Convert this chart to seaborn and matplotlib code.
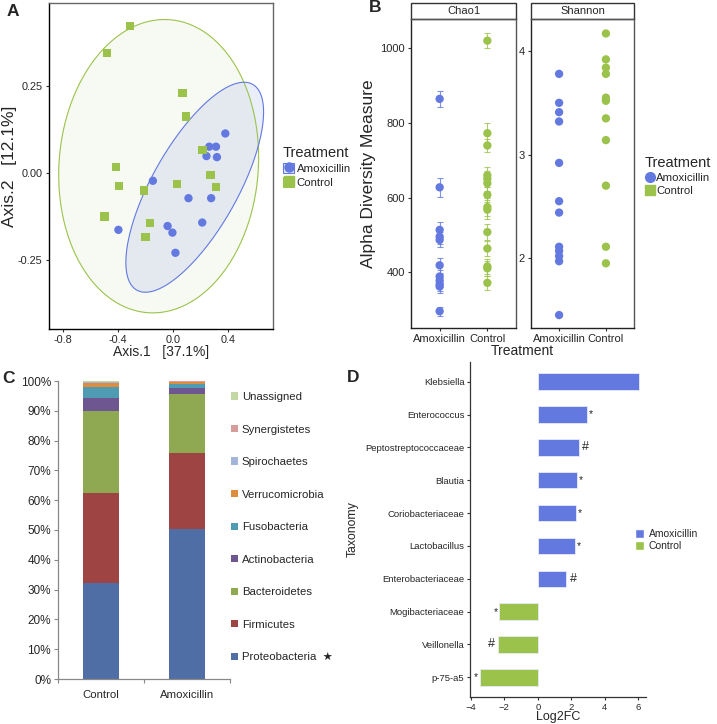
import numpy as np
import pandas as pd
import matplotlib
matplotlib.use("Agg")
import matplotlib.pyplot as plt
from matplotlib.patches import Patch, Rectangle
from matplotlib.lines import Line2D
import seaborn as sns

sns.set_style("white")
plt.rcParams["font.family"] = ["Liberation Sans", "DejaVu Sans"]

BLUE = "#6379E0"
GREEN = "#9BC34B"
PAL = {"Amoxicillin": BLUE, "Control": GREEN}

# ---------------------------------------------------------------------------
# Panel A: PCoA ordination (Axis.1 / Axis.2)
# ---------------------------------------------------------------------------
amox_axis1 = [0.383, 0.266, 0.315, 0.246, 0.322, -0.144, 0.115, 0.280,
              -0.395, -0.037, -0.002, 0.215, 0.020]
amox_axis2 = [0.114, 0.076, 0.076, 0.049, 0.046, -0.022, -0.072, -0.072,
              -0.163, -0.152, -0.171, -0.142, -0.229]
ctrl_axis1 = [-0.312, -0.476, 0.071, 0.095, 0.217, -0.412, -0.393, -0.210,
              0.032, 0.276, 0.317, -0.495, -0.163, -0.198]
ctrl_axis2 = [0.422, 0.346, 0.230, 0.163, 0.066, 0.018, -0.037, -0.050,
              -0.032, -0.006, -0.039, -0.125, -0.144, -0.183]

# ---------------------------------------------------------------------------
# Panel B: alpha diversity (Chao1 with s.e., Shannon)
# ---------------------------------------------------------------------------
chao1_amox = [865, 628, 514, 496, 487, 419, 389, 378, 368, 362, 296]
chao1_amox_se = [21, 25, 20, 20, 20, 20, 18, 18, 18, 18, 12]
chao1_ctrl = [1021, 773, 740, 660, 651, 639, 608, 575, 568, 508, 464, 416, 411, 372]
chao1_ctrl_se = [20, 27, 18, 22, 22, 22, 20, 25, 25, 22, 20, 20, 20, 18]
shannon_amox = [3.78, 3.50, 3.41, 3.32, 2.92, 2.55, 2.44, 2.11, 2.07, 2.02, 1.97, 1.45]
shannon_ctrl = [4.17, 3.92, 3.84, 3.78, 3.55, 3.52, 3.35, 3.14, 2.70, 2.11, 1.95]

# ---------------------------------------------------------------------------
# Panel C: phylum relative abundance (%)
# ---------------------------------------------------------------------------
samples_c = ["Control", "Amoxicillin"]
phyla = ["Proteobacteria", "Firmicutes", "Bacteroidetes", "Actinobacteria",
         "Fusobacteria", "Verrucomicrobia", "Spirochaetes", "Synergistetes",
         "Unassigned"]
abund_control = [32.1, 30.2, 27.7, 4.2, 3.9, 1.1, 0.4, 0.2, 0.2]
abund_amox = [50.2, 25.6, 20.0, 1.7, 1.5, 0.7, 0.1, 0.05, 0.15]
phyla_colors = ["#4F6EA6", "#9E4442", "#8FA852", "#6E5690", "#4E9BB2",
                "#DE8C3E", "#A3B6D9", "#D69D9B", "#C3D8A2"]

# ---------------------------------------------------------------------------
# Panel D: differential abundance (Log2FC)
# ---------------------------------------------------------------------------
taxa = ["Klebsiella", "Enterococcus", "Peptostreptococcaceae", "Blautia",
        "Coriobacteriaceae", "Lactobacillus", "Enterobacteriaceae",
        "Mogibacteriaceae", "Veillonella", "p-75-a5"]
log2fc = [6.06, 2.92, 2.44, 2.34, 2.28, 2.22, 1.70, -2.30, -2.38, -3.48]
enriched_in = ["Amoxicillin"] * 7 + ["Control"] * 3
signif = ["", "*", "#", "*", "*", "*", "#", "*", "#", "*"]


def cov_trob(x, nu=5, maxit=25, tol=0.01):
    # Robust multivariate-t covariance (port of MASS::cov.trob, as stat_ellipse uses).
    n, p = x.shape
    wt = np.ones(n)
    loc = x.mean(axis=0)
    w = np.sqrt(wt)
    for _ in range(maxit):
        w0 = w
        X = x - loc
        _, s, vt = np.linalg.svd(np.sqrt(w / w.sum())[:, None] * X, full_matrices=False)
        wX = X @ vt.T @ np.diag(1 / s)
        Q = (wX ** 2).sum(axis=1)
        w = wt * (nu + p) / (nu + Q)
        loc = (w[:, None] * x).sum(axis=0) / w.sum()
        if np.all(np.abs(w - w0) < tol):
            break
    sw = np.sqrt(w)[:, None] * X
    return loc, sw.T @ sw / wt.sum()


def conf_ellipse(x, y, level=0.95, npts=240):
    pts = np.column_stack([x, y]).astype(float)
    center, shape = cov_trob(pts)
    d = len(pts) - 1
    fq = (d / 2) * ((1 - level) ** (-2 / d) - 1)  # F(2, n-1) quantile, closed form
    radius = np.sqrt(2 * fq)
    chol = np.linalg.cholesky(shape)
    t = np.linspace(0, 2 * np.pi, npts)
    out = center[:, None] + radius * chol @ np.vstack([np.cos(t), np.sin(t)])
    return out[0], out[1]


def frame(ax, dark="black", light="#666666"):
    for s in ["left", "bottom"]:
        ax.spines[s].set_color(dark)
        ax.spines[s].set_linewidth(1.0)
    for s in ["top", "right"]:
        ax.spines[s].set_color(light)
        ax.spines[s].set_linewidth(1.0)
        ax.spines[s].set_visible(True)


W, H = 717, 724
fig = plt.figure(figsize=(W / 100, H / 100), dpi=100)


def px_axes(x0, y0, x1, y1):
    # axes from pixel box (left, top, right, bottom)
    return fig.add_axes([x0 / W, 1 - y1 / H, (x1 - x0) / W, (y1 - y0) / H])


# ----------------------------- A ------------------------------------------
axA = px_axes(49, 3, 273, 329)
dfA = pd.DataFrame({
    "axis1": amox_axis1 + ctrl_axis1,
    "axis2": amox_axis2 + ctrl_axis2,
    "Treatment": ["Amoxicillin"] * len(amox_axis1) + ["Control"] * len(ctrl_axis1),
})
fills = {"Amoxicillin": (BLUE, 0.13), "Control": (GREEN, 0.07)}
for grp in ["Control", "Amoxicillin"]:
    sub = dfA[dfA["Treatment"] == grp]
    ex, ey = conf_ellipse(sub["axis1"], sub["axis2"])
    col, alpha = fills[grp]
    axA.fill(ex, ey, color=col, alpha=alpha, lw=0, zorder=1)
    axA.plot(ex, ey, color=col, lw=0.8, zorder=2)
sns.scatterplot(data=dfA, x="axis1", y="axis2", hue="Treatment", style="Treatment",
                palette=PAL, markers={"Amoxicillin": "o", "Control": "s"},
                s=36, edgecolor="none", legend=False, ax=axA, zorder=3)
axA.set_xlim(-0.9, 0.73)
axA.set_ylim(-0.448, 0.489)
axA.set_xticks([-0.8, -0.4, 0.0, 0.4])
axA.set_xticklabels(["-0.8", "-0.4", "0.0", "0.4"])
axA.set_yticks([-0.25, 0.0, 0.25])
axA.set_yticklabels(["-0.25", "0.00", "0.25"])
axA.tick_params(length=2.5, width=0.8, color="#333333", labelsize=7.8, pad=2,
                bottom=True, left=True)
axA.set_xlabel("Axis.1   [37.1%]", fontsize=10, labelpad=0)
axA.set_ylabel("Axis.2   [12.1%]", fontsize=12.5, labelpad=1)
frame(axA)

legA_handles = [
    (Patch(facecolor="#E8EAF7", edgecolor=BLUE, lw=0.8),
     Line2D([], [], marker="o", ls="", color=BLUE, markersize=6.5)),
    (Patch(facecolor="#F4F8E8", edgecolor=GREEN, lw=0.8),
     Line2D([], [], marker="s", ls="", color=GREEN, markersize=6.5)),
]
fig.legend(legA_handles, ["Amoxicillin", "Control"], title="Treatment",
           loc="upper left", bbox_to_anchor=(283 / W, 1 - 146 / H), frameon=False,
           fontsize=8.2, title_fontsize=10.5, alignment="left",
           handlelength=1.0, handleheight=1.0, handletextpad=0.2,
           labelspacing=0.25, borderaxespad=0, borderpad=0)

# ----------------------------- B ------------------------------------------
axB1 = px_axes(411, 19, 516, 328)
axB2 = px_axes(531, 19, 634, 328)

dfB1 = pd.DataFrame({
    "Treatment": ["Amoxicillin"] * len(chao1_amox) + ["Control"] * len(chao1_ctrl),
    "value": chao1_amox + chao1_ctrl,
    "se": chao1_amox_se + chao1_ctrl_se,
})
dfB2 = pd.DataFrame({
    "Treatment": ["Amoxicillin"] * len(shannon_amox) + ["Control"] * len(shannon_ctrl),
    "value": shannon_amox + shannon_ctrl,
})
order_b = ["Amoxicillin", "Control"]
for grp, xpos in zip(order_b, [0, 1]):
    sub = dfB1[dfB1["Treatment"] == grp]
    axB1.errorbar(np.full(len(sub), xpos), sub["value"], yerr=sub["se"], fmt="none",
                  ecolor=PAL[grp], elinewidth=0.8, capsize=2.5, capthick=0.8, alpha=0.8,
                  zorder=2)
sns.stripplot(data=dfB1, x="Treatment", y="value", hue="Treatment", order=order_b,
              palette=PAL, jitter=False, size=6, linewidth=0, legend=False,
              ax=axB1, zorder=3)
sns.stripplot(data=dfB2, x="Treatment", y="value", hue="Treatment", order=order_b,
              palette=PAL, jitter=False, size=6, linewidth=0, legend=False,
              ax=axB2, zorder=3)
axB1.set_ylim(251, 1079)
axB1.set_yticks([400, 600, 800, 1000])
axB2.set_ylim(1.325, 4.31)
axB2.set_yticks([2, 3, 4])
for ax, strip in [(axB1, "Chao1"), (axB2, "Shannon")]:
    ax.set_xlim(-0.6, 1.6)
    ax.set_xlabel("")
    ax.set_ylabel("")
    ax.tick_params(length=2.5, width=0.8, color="#333333", labelsize=8, pad=2,
                   bottom=True, left=True)
    frame(ax, dark="#222222", light="#555555")
    ax.add_patch(Rectangle((0, 1), 1, 16 / 309, transform=ax.transAxes, clip_on=False,
                           facecolor="white", edgecolor="#333333", lw=1.0))
    ax.text(0.5, 1 + 8 / 309, strip, transform=ax.transAxes, ha="center", va="center",
            fontsize=8)
axB1.set_ylabel("Alpha Diversity Measure", fontsize=12.5, labelpad=3)
fig.text(522 / W, 1 - 351 / H, "Treatment", ha="center", va="center", fontsize=10)

legB_handles = [Line2D([], [], marker="o", ls="", color=BLUE, markersize=7),
                Line2D([], [], marker="s", ls="", color=GREEN, markersize=7)]
fig.legend(legB_handles, ["Amoxicillin", "Control"], title="Treatment",
           loc="upper left", bbox_to_anchor=(645 / W, 1 - 156 / H), frameon=False,
           fontsize=8.2, title_fontsize=10.5, alignment="left",
           handlelength=0.8, handletextpad=0.2, labelspacing=0.25,
           borderaxespad=0, borderpad=0)

# ----------------------------- C ------------------------------------------
axC = px_axes(58, 381, 230, 679)
ab = pd.DataFrame([abund_control, abund_amox], columns=phyla)
cum = ab.cumsum(axis=1)
# stacked bars: draw cumulative totals from the top layer down
for ph, col in reversed(list(zip(phyla, phyla_colors))):
    dfC = pd.DataFrame({"sample": samples_c, "cum": cum[ph].values})
    sns.barplot(data=dfC, x="sample", y="cum", order=samples_c, color=col,
                saturation=1, width=0.41, linewidth=0, ax=axC)
axC.set_xlim(-0.5, 1.5)
axC.set_ylim(0, 100)
axC.set_yticks(np.arange(0, 101, 10))
axC.set_yticklabels([f"{v}%" for v in range(0, 101, 10)])
axC.set_xticks([-0.5, 0.5, 1.5])
axC.set_xticklabels([])
axC.set_xticks([0, 1], minor=True)
axC.set_xticklabels(samples_c, minor=True)
axC.tick_params(axis="x", which="minor", length=0, labelsize=8.2, pad=8)
axC.tick_params(axis="x", which="major", length=3, width=0.8, color="#888888",
                bottom=True)
axC.tick_params(axis="y", length=3, width=0.8, color="#888888", labelsize=8.5,
                left=True, pad=2)
axC.set_xlabel("")
axC.set_ylabel("")
for s in ["top", "right"]:
    axC.spines[s].set_visible(False)
for s in ["left", "bottom"]:
    axC.spines[s].set_color("#888888")
    axC.spines[s].set_linewidth(0.9)

labels_c = [p + ("  \u2605" if p == "Proteobacteria" else "") for p in phyla]
legC_handles = [Patch(facecolor=c, edgecolor="none") for c in phyla_colors]
fig.legend(legC_handles[::-1], labels_c[::-1], loc="upper left",
           bbox_to_anchor=(231 / W, 1 - 392 / H), frameon=False, fontsize=8.2,
           handlelength=0.6, handleheight=0.6, handletextpad=0.35,
           labelspacing=1.98, borderaxespad=0, borderpad=0)

# ----------------------------- D ------------------------------------------
axD = px_axes(470, 362, 646, 697)
dfD = pd.DataFrame({"taxon": taxa, "lfc": log2fc, "group": enriched_in})
sns.barplot(data=dfD, x="lfc", y="taxon", hue="group", order=taxa, palette=PAL,
            orient="h", dodge=False, width=0.5, saturation=1, edgecolor="#E6EAF8",
            linewidth=0.6, legend=False, ax=axD)
for i, (v, mark) in enumerate(zip(log2fc, signif)):
    if not mark:
        continue
    fs = 9 if mark == "#" else 7.5
    off = 2.5 if mark == "#" else 1.2
    axD.annotate(mark, (v, i), xytext=(off if v > 0 else -off, 0),
                 textcoords="offset points", ha="left" if v > 0 else "right",
                 va="center", fontsize=fs)
axD.set_xlim(-4.05, 6.45)
axD.set_ylim(9.6, -0.6)
axD.set_xticks([-4, -2, 0, 2, 4, 6])
axD.tick_params(length=2.5, width=0.8, color="#333333", labelsize=6.8, pad=1.5,
                bottom=True, left=True)
axD.set_xlabel("Log2FC", fontsize=9, labelpad=-0.5)
axD.set_ylabel("Taxonomy", fontsize=8.8)
axD.yaxis.set_label_coords(-111 / 176, 0.5)
for s in ["top", "right"]:
    axD.spines[s].set_visible(False)
for s in ["left", "bottom"]:
    axD.spines[s].set_color("#333333")
    axD.spines[s].set_linewidth(0.9)

legD_handles = [Patch(facecolor=BLUE), Patch(facecolor=GREEN)]
fig.legend(legD_handles, ["Amoxicillin", "Control"], loc="upper left",
           bbox_to_anchor=(635 / W, 1 - 529 / H), frameon=False, fontsize=7.5,
           handlelength=0.9, handleheight=1.0, handletextpad=0.4, labelspacing=0.15,
           borderaxespad=0, borderpad=0)

# panel letters
for lab, x, y in [("A", 7, 12), ("B", 369, 8), ("C", 2, 378), ("D", 347, 377)]:
    fig.text(x / W, 1 - y / H, lab, fontsize=12.5, fontweight="bold", va="center",
             ha="left")

fig.savefig("out.png", dpi=100)
